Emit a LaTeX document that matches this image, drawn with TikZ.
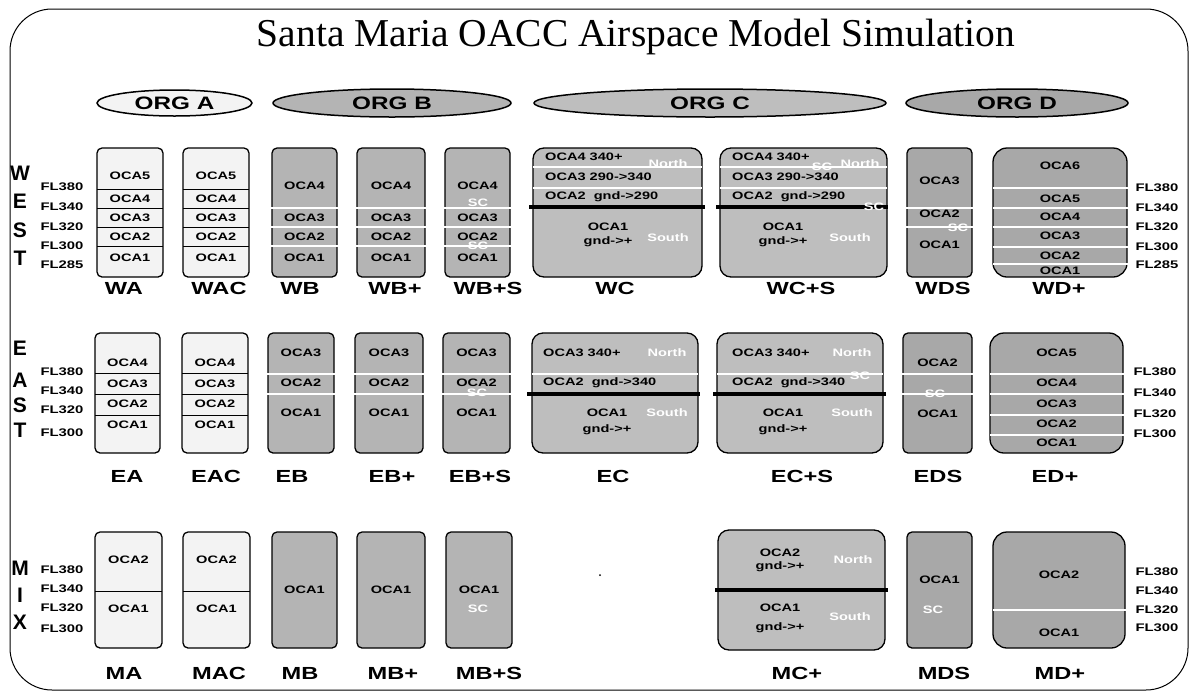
\documentclass[tikz,border=0pt]{standalone}
\usepackage{fontspec}
\setmainfont{Liberation Serif}
\newfontfamily\sx[FakeStretch=1.35]{Liberation Sans}
\newfontfamily\sn{Liberation Sans}
\usetikzlibrary{shapes.geometric}
\definecolor{colA}{RGB}{243,243,243}
\definecolor{colB}{RGB}{180,180,180}
\definecolor{colC}{RGB}{190,190,190}
\definecolor{colD}{RGB}{168,168,168}
\begin{document}
\begin{tikzpicture}[x=1pt,y=-1pt,
  fa/.style={draw=black,line width=1.3pt,fill=colA,rounded corners=5pt},
  fb/.style={fa,fill=colB},
  fc/.style={fa,fill=colC,rounded corners=11pt},
  fd/.style={fa,fill=colD},
  fdl/.style={fa,fill=colD,rounded corners=14pt},
  bl/.style={draw=black,line width=1pt},
  wl/.style={draw=white,line width=1.3pt},
  tk/.style={draw=black,line width=4.5pt},
  bt/.style={font=\sx\bfseries\fontsize{10.8}{11}\selectfont,inner sep=0pt},
  btl/.style={bt,anchor=west},
  wt/.style={bt,text=white},
  fl/.style={font=\sx\bfseries\fontsize{11}{11}\selectfont,inner sep=0pt},
  lab/.style={font=\sx\bfseries\fontsize{17.5}{18}\selectfont,inner sep=0pt},
  big/.style={font=\sn\bfseries\fontsize{21}{21}\selectfont,inner sep=0pt},
  org/.style={ellipse,draw=black,line width=1.5pt,inner sep=0pt,font=\sx\bfseries\fontsize{18}{18}\selectfont}
]
\useasboundingbox (0,0) rectangle (1192,697);
\fill[white] (0,0) rectangle (1192,697);
% frame
\draw[line width=1pt,rounded corners=42pt] (10,9) rectangle (1188,690);
% title
\node[inner sep=0pt] (title) at (636,37) {\fontsize{39.5}{40}\selectfont Santa Maria OACC Airspace Model Simulation};
% orgs
\node[org,fill=colA,minimum width=155pt,minimum height=26pt] (orgA) at (174.5,103) {ORG A};
\node[org,fill=colB,minimum width=238pt,minimum height=28pt] (orgB) at (392,103) {ORG B};
\node[org,fill=colC,minimum width=352pt,minimum height=28pt] (orgC) at (710,103) {ORG C};
\node[org,fill=colD,minimum width=222pt,minimum height=28pt] (orgD) at (1017,103) {ORG D};

% ================= WEST =================
\foreach \t/\y [count=\i] in {W/173,E/201,S/230,T/258} \node[big] (wl\i) at (20,\y) {\t};
\foreach \t/\y [count=\i] in {FL380/187,FL340/207,FL320/227,FL300/246,FL285/265} \node[fl] (wfl\i) at (62,\y) {\t};
\foreach \t/\y [count=\i] in {FL380/188,FL340/208,FL320/227,FL300/247,FL285/265} \node[fl] (wfr\i) at (1157,\y) {\t};
% WA
\draw[fa] (97,148) rectangle (163,277);
\foreach \y in {189,208,227,246} \draw[bl] (97,\y) -- (163,\y);
\foreach \t/\y [count=\i] in {OCA5/176,OCA4/199,OCA3/218,OCA2/237,OCA1/258} \node[bt] (wa\i) at (130,\y) {\t};
\node[lab] (WAl) at (124,288) {WA};
% WAC
\draw[fa] (183,148) rectangle (249,277);
\foreach \y in {189,208,227,246} \draw[bl] (183,\y) -- (249,\y);
\foreach \t/\y [count=\i] in {OCA5/176,OCA4/199,OCA3/218,OCA2/237,OCA1/258} \node[bt] (wac\i) at (216,\y) {\t};
\node[lab] (WACl) at (219,288) {WAC};
% WB
\draw[fb] (272,148) rectangle (337,277);
\foreach \y in {208,227,246} \draw[wl] (270,\y) -- (339,\y);
\foreach \t/\y [count=\i] in {OCA4/186,OCA3/218,OCA2/237,OCA1/258} \node[bt] (wb\i) at (304.5,\y) {\t};
\node[lab] (WBl) at (300,288) {WB};
% WB+
\draw[fb] (357,148) rectangle (425,277);
\foreach \y in {208,227,246} \draw[wl] (355,\y) -- (427,\y);
\foreach \t/\y [count=\i] in {OCA4/186,OCA3/218,OCA2/237,OCA1/258} \node[bt] (wbp\i) at (391,\y) {\t};
\node[lab] (WBpl) at (395,288) {WB+};
% WB+S
\draw[fb] (445,148) rectangle (510,277);
\foreach \y in {208,227,246} \draw[wl] (443,\y) -- (512,\y);
\foreach \t/\y [count=\i] in {OCA4/186,OCA3/218,OCA2/237,OCA1/258} \node[bt] (wbs\i) at (477.5,\y) {\t};
\node[wt] (wbsc1) at (478,203) {SC};
\node[wt] (wbsc2) at (478,246) {SC};
\node[lab] (WBSl) at (488,288) {WB+S};
% WC
\draw[fc] (533,148) rectangle (702,277);
\draw[wl] (533,167) -- (702,167);
\draw[wl] (533,188) -- (702,188);
\draw[tk] (529,207) -- (705,207);
\node[btl] (wc4) at (545,157) {OCA4 340+};
\node[btl] (wc3) at (545,177) {OCA3 290->340};
\node[btl] (wc2) at (545,197) {OCA2 \ gnd->290};
\node[bt] (wc1) at (608,227) {OCA1};
\node[bt] (wc1b) at (608,242) {gnd->+};
\node[wt] (wcn) at (668,164) {North};
\node[wt] (wcs) at (668,238) {South};
\node[lab] (WCl) at (615,288) {WC};
% WC+S
\draw[fc] (720,148) rectangle (887,277);
\draw[wl] (720,167) -- (887,167);
\draw[wl] (720,188) -- (887,188);
\draw[tk] (716,207) -- (888,207);
\node[btl] (wcs4) at (732,157) {OCA4 340+};
\node[btl] (wcs3) at (732,177) {OCA3 290->340};
\node[btl] (wcs2) at (732,197) {OCA2 \ gnd->290};
\node[bt] (wcs1) at (783,227) {OCA1};
\node[bt] (wcs1b) at (783,242) {gnd->+};
\node[wt] (wcsn) at (860,164) {North};
\node[wt] (wcss) at (850,238) {South};
\node[wt] (wcsc1) at (822,167) {SC};
\node[wt] (wcsc2) at (874,207) {SC};
\node[lab] (WCSl) at (801,288) {WC+S};
% WDS
\draw[fd] (907,148) rectangle (972,277);
\foreach \y in {208,227} \draw[wl] (905,\y) -- (974,\y);
\foreach \t/\y [count=\i] in {OCA3/181,OCA2/214,OCA1/245} \node[bt] (wds\i) at (939.5,\y) {\t};
\node[wt] (wdsc) at (958,228) {SC};
\node[lab] (WDSl) at (943,288) {WDS};
% WD+
\draw[fdl] (993,148) rectangle (1127,277);
\foreach \y in {188,208,227,247,264} \draw[wl] (993,\y) -- (1129,\y);
\foreach \t/\y [count=\i] in {OCA6/166,OCA5/199,OCA4/217,OCA3/236,OCA2/256,OCA1/271} \node[bt] (wdp\i) at (1060,\y) {\t};
\node[lab] (WDpl) at (1059,288) {WD+};

% ================= EAST =================
\foreach \t/\y [count=\i] in {E/348,A/380,S/405,T/430} \node[big] (el\i) at (20,\y) {\t};
\foreach \t/\y [count=\i] in {FL380/372,FL340/391,FL320/410,FL300/433} \node[fl] (efl\i) at (62,\y) {\t};
\foreach \t/\y [count=\i] in {FL380/372,FL340/393,FL320/414,FL300/434} \node[fl] (efr\i) at (1155,\y) {\t};
% EA
\draw[fa] (95,333) rectangle (160,453);
\foreach \y in {373,394,415} \draw[bl] (95,\y) -- (160,\y);
\foreach \t/\y [count=\i] in {OCA4/363,OCA3/384,OCA2/404,OCA1/425} \node[bt] (ea\i) at (127.5,\y) {\t};
\node[lab] (EAl) at (127,476) {EA};
% EAC
\draw[fa] (182,333) rectangle (248,453);
\foreach \y in {373,394,415} \draw[bl] (182,\y) -- (248,\y);
\foreach \t/\y [count=\i] in {OCA4/363,OCA3/384,OCA2/404,OCA1/425} \node[bt] (eac\i) at (215,\y) {\t};
\node[lab] (EACl) at (216,476) {EAC};
% EB
\draw[fb] (268,333) rectangle (334,453);
\foreach \y in {374,394} \draw[wl] (266,\y) -- (336,\y);
\foreach \t/\y [count=\i] in {OCA3/353,OCA2/383,OCA1/413} \node[bt] (eb\i) at (301,\y) {\t};
\node[lab] (EBl) at (292,476) {EB};
% EB+
\draw[fb] (355,333) rectangle (423,453);
\foreach \y in {374,394} \draw[wl] (353,\y) -- (425,\y);
\foreach \t/\y [count=\i] in {OCA3/353,OCA2/383,OCA1/413} \node[bt] (ebp\i) at (389,\y) {\t};
\node[lab] (EBpl) at (392,476) {EB+};
% EB+S
\draw[fb] (443,333) rectangle (510,453);
\foreach \y in {374,394} \draw[wl] (441,\y) -- (512,\y);
\foreach \t/\y [count=\i] in {OCA3/353,OCA2/383,OCA1/413} \node[bt] (ebs\i) at (476.5,\y) {\t};
\node[wt] (ebsc) at (477,393) {SC};
\node[lab] (EBSl) at (480,476) {EB+S};
% EC
\draw[fc] (532,333) rectangle (698,453);
\draw[wl] (532,374) -- (698,374);
\draw[tk] (527,394) -- (700,394);
\node[btl] (ec3) at (543,353) {OCA3 340+};
\node[btl] (ec2) at (543,383) {OCA2 \ gnd->340};
\node[bt] (ec1) at (607,413) {OCA1};
\node[bt] (ec1b) at (607,430) {gnd->+};
\node[wt] (ecn) at (667,353) {North};
\node[wt] (ecs) at (667,413) {South};
\node[lab] (ECl) at (613,476) {EC};
% EC+S
\draw[fc] (717,333) rectangle (883,453);
\draw[wl] (717,374) -- (883,374);
\draw[tk] (713,394) -- (886,394);
\node[btl] (ecs3) at (732,353) {OCA3 340+};
\node[btl] (ecs2) at (732,383) {OCA2 \ gnd->340};
\node[bt] (ecs1) at (783,413) {OCA1};
\node[bt] (ecs1b) at (783,430) {gnd->+};
\node[wt] (ecsn) at (852,353) {North};
\node[wt] (ecss) at (852,413) {South};
\node[wt] (ecsc) at (860,376) {SC};
\node[lab] (ECSl) at (802,476) {EC+S};
% EDS
\draw[fd] (903,333) rectangle (972,453);
\foreach \y in {374,394} \draw[wl] (901,\y) -- (974,\y);
\foreach \t/\y [count=\i] in {OCA2/363,OCA1/414} \node[bt] (eds\i) at (937.5,\y) {\t};
\node[wt] (edsc) at (935,394) {SC};
\node[lab] (EDSl) at (938,476) {EDS};
% ED+
\draw[fdl] (990,333) rectangle (1123,453);
\foreach \y in {374,394,415,435} \draw[wl] (990,\y) -- (1125,\y);
\foreach \t/\y [count=\i] in {OCA5/353,OCA4/383,OCA3/404,OCA2/424,OCA1/443} \node[bt] (edp\i) at (1056.5,\y) {\t};
\node[lab] (EDpl) at (1055,476) {ED+};

% ================= MIX =================
\foreach \t/\y [count=\i] in {M/568,I/595,X/622} \node[big] (ml\i) at (20,\y) {\t};
\foreach \t/\y [count=\i] in {FL380/570,FL340/589,FL320/608,FL300/629} \node[fl] (mfl\i) at (62,\y) {\t};
\foreach \t/\y [count=\i] in {FL380/572,FL340/591,FL320/610,FL300/628} \node[fl] (mfr\i) at (1157,\y) {\t};
% MA
\draw[fa] (95,532) rectangle (162,648);
\draw[bl] (95,591) -- (162,591);
\node[bt] (ma2) at (128.5,560) {OCA2};
\node[bt] (ma1) at (128.5,609) {OCA1};
\node[lab] (MAl) at (124,673) {MA};
% MAC
\draw[fa] (183,532) rectangle (250,648);
\draw[bl] (183,591) -- (250,591);
\node[bt] (mac2) at (216.5,560) {OCA2};
\node[bt] (mac1) at (216.5,609) {OCA1};
\node[lab] (MACl) at (219,673) {MAC};
% MB
\draw[fb] (272,532) rectangle (337,648);
\node[bt] (mb1) at (304.5,590) {OCA1};
\node[lab] (MBl) at (300,673) {MB};
% MB+
\draw[fb] (357,532) rectangle (425,648);
\node[bt] (mbp1) at (391,590) {OCA1};
\node[lab] (MBpl) at (393,673) {MB+};
% MB+S
\draw[fb] (446,532) rectangle (512,648);
\node[bt] (mbs1) at (479,590) {OCA1};
\node[wt] (mbsc) at (478,609) {SC};
\node[lab] (MBSl) at (489,673) {MB+S};
% dot
\fill (600,575) circle (1pt);
% MC+
\draw[fc] (718,530) rectangle (885,650);
\draw[tk] (715,590) -- (888,590);
\node[bt] (mc2) at (780,553) {OCA2};
\node[bt] (mc2b) at (780,567) {gnd->+};
\node[wt] (mcn) at (853,560) {North};
\node[bt] (mc1) at (780,608) {OCA1};
\node[bt] (mc1b) at (780,628) {gnd->+};
\node[wt] (mcs) at (850,617) {South};
\node[lab] (MCl) at (797,673) {MC+};
% MDS
\draw[fd] (907,532) rectangle (972,648);
\node[bt] (mds1) at (939.5,580) {OCA1};
\node[wt] (mdsc) at (933,610) {SC};
\node[lab] (MDSl) at (944,673) {MDS};
% MD+
\draw[fdl] (993,532) rectangle (1125,648);
\draw[wl] (993,610) -- (1127,610);
\node[bt] (mdp2) at (1059,575) {OCA2};
\node[bt] (mdp1) at (1059,633) {OCA1};
\node[lab] (MDpl) at (1060,673) {MD+};
\end{tikzpicture}
\end{document}
